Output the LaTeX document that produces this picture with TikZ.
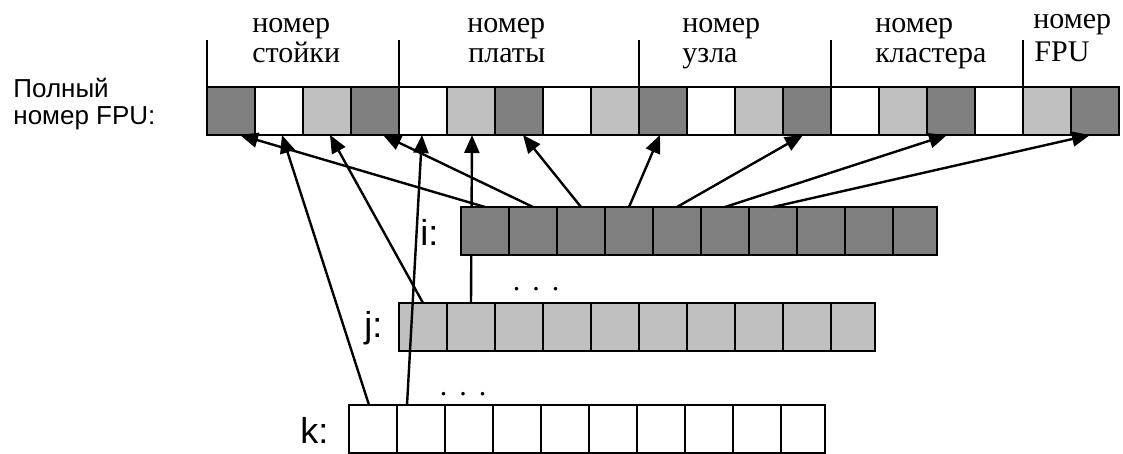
\documentclass[tikz,border=0pt]{standalone}
\usepackage{fontspec}
\setmainfont{Liberation Serif}
\newfontfamily\labelsans{Liberation Sans}
\usetikzlibrary{arrows.meta,calc,backgrounds}

\definecolor{cD}{HTML}{808080}
\definecolor{cL}{HTML}{C0C0C0}
\definecolor{cW}{HTML}{FFFFFF}

\begin{document}
\begin{tikzpicture}[x=0.5pt,y=-0.5pt,
  cell/.style={draw=black, line width=1pt, minimum width=24pt, minimum height=24pt,
               inner sep=0pt, outer sep=0pt},
  lastcell/.style={cell, minimum width=22pt},
  sep/.style={line width=1pt},
  link/.style={line width=1.2pt, -{Triangle[length=9pt,width=7.5pt]}},
  field/.style={anchor=base west, inner sep=0pt, font=\fontsize{15}{17}\selectfont},
  rowlabel/.style={anchor=base west, inner sep=0pt, font=\labelsans\fontsize{18}{21}\selectfont},
  sidelabel/.style={anchor=base west, inner sep=0pt, font=\labelsans\fontsize{13}{15}\selectfont},
  dots/.style={anchor=base, inner sep=0pt, font=\fontsize{15}{17}\selectfont}
]
\useasboundingbox (0,0) rectangle (1123,454);

% full FPU number: 19 bits
\foreach \c [count=\n from 0] in {D,W,L,D,W,L,D,W,L,D,W,L,D,W,L,D,W,L,D}
  \node[cell, fill=c\c] (t\n) at ({231+48*\n},111) {};

% field separators
\foreach \n in {0,4,9,13,17}
  \draw[sep] (t\n.north west) -- ++(0,-47);

% field names
\node[field] at (252,33) {номер};
\node[field] at (252,63) {стойки};
\node[field] at (467,33) {номер};
\node[field] at (468,63) {платы};
\node[field] at (682,33) {номер};
\node[field] at (682,63) {узла};
\node[field] at (875,33) {номер};
\node[field] at (875,63) {кластера};
\node[field] at (1033,29) {номер};
\node[field] at (1034,62) {FPU};

\node[sidelabel] at (13,98) {Полный};
\node[sidelabel] at (13,125) {номер FPU:};

% source numbers i, j, k
\foreach \n in {0,...,8}
  \node[cell, fill=cD] (i\n) at ({485+48*\n},231) {};
\node[lastcell, fill=cD] (i9) at (915,231) {};

\foreach \n in {0,...,8}
  \node[cell, fill=cL] (j\n) at ({423+48*\n},327) {};
\node[lastcell, fill=cL] (j9) at (853,327) {};

\foreach \n in {0,...,8}
  \node[cell, fill=cW] (k\n) at ({373+48*\n},429) {};
\node[lastcell, fill=cW] (k9) at (803,429) {};

\node[rowlabel] at (420,245) {i:};
\node[rowlabel] at (364,337) {j:};
\node[rowlabel] at (300,443) {k:};

\node[dots] at (536,290) {.\hspace{6pt}.\hspace{6pt}.};
\node[dots] at (463,395) {.\hspace{6pt}.\hspace{6pt}.};

% bit mapping
\draw[link] (i0.north) -- ($(t0.south)+(9,0)$);
\draw[link] ($(k0.north)+(-4,0)$) -- ($(t1.south)+(3,0)$);
\draw[link] (j0.north) -- ($(t2.south)+(3,0)$);
\draw[link] (i1.north) -- ($(t3.south)+(8,0)$);
\draw[link] ($(k1.north)+(-14,0)$) -- ($(t4.south)+(-1,0)$);
\begin{scope}[on background layer]
  \draw[link] (j1.north) -- ($(t5.south)+(1,0)$);
\end{scope}
\draw[link] (i2.north) -- ($(t6.south)+(4,0)$);
\draw[link] (i3.north) -- ($(t9.south)+(-3,0)$);
\draw[link] (i4.north) -- ($(t12.south)+(-4,0)$);
\draw[link] (i5.north) -- ($(t15.south)+(-4,0)$);
\draw[link] (i6.north) -- ($(t18.south)+(-5,0)$);
\end{tikzpicture}
\end{document}
